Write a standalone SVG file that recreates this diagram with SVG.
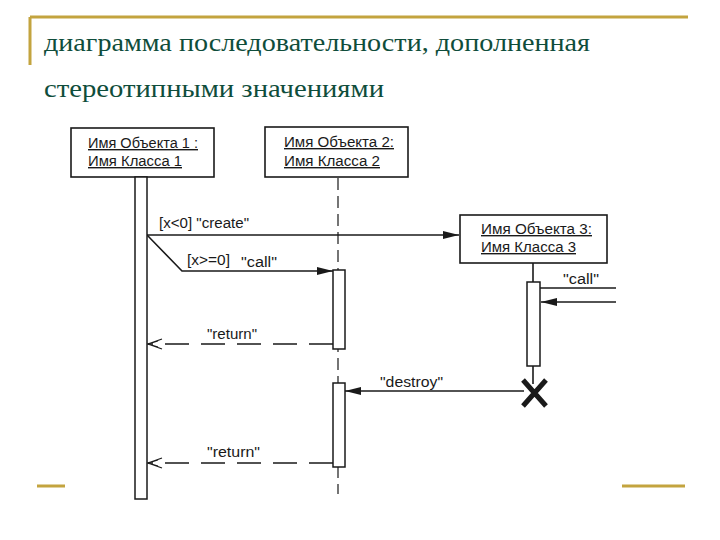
<svg xmlns="http://www.w3.org/2000/svg" width="720" height="540" viewBox="0 0 720 540">
<defs>
<style>
.gold{stroke:#c3a43f;stroke-width:3;fill:none}
.title{font-family:"Liberation Serif","DejaVu Serif",serif;font-size:25px;fill:#0f4d3b}
.box{fill:#fff;stroke:#1a1a1a;stroke-width:1.6}
.bar{fill:#fff;stroke:#1a1a1a;stroke-width:1.5}
.name{font-family:"Liberation Sans",Arial,sans-serif;font-size:14px;fill:#1a1a1a;text-decoration:underline}
.lbl{font-family:"Liberation Sans",Arial,sans-serif;font-size:14px;fill:#1a1a1a}
.msg{stroke:#1a1a1a;stroke-width:1.6;fill:none}
.ret{stroke:#1a1a1a;stroke-width:1.4;fill:none;stroke-dasharray:24 12}
.life{stroke:#1a1a1a;stroke-width:1.2;fill:none;stroke-dasharray:12 6}
</style>
<marker id="filled" viewBox="0 0 16 10" refX="16" refY="5" markerWidth="16" markerHeight="10" markerUnits="userSpaceOnUse" orient="auto">
<path d="M0,1 L16,5 L0,9 Z" fill="#1a1a1a"/>
</marker>
<marker id="open" viewBox="0 0 16 12" refX="15" refY="6" markerWidth="16" markerHeight="12" markerUnits="userSpaceOnUse" orient="auto">
<path d="M1,1 L15,6 L1,11 M5,3 L15,6 L5,9" fill="none" stroke="#1a1a1a" stroke-width="1.3"/>
</marker>
</defs>
<rect width="720" height="540" fill="#fff"/>
<g id="frame">
<path class="gold" d="M30,17 H688 M30,17 V65"/>
<path class="gold" d="M37,486 H65 M622,486 H685"/>
</g>
<g id="title">
<text class="title" x="44" y="51" textLength="546" lengthAdjust="spacingAndGlyphs">диаграмма последовательности, дополненная</text>
<text class="title" x="44" y="97" textLength="340" lengthAdjust="spacingAndGlyphs">стереотипными значениями</text>
</g>
<g id="connectors">
<line class="life" x1="338" y1="178" x2="338" y2="494"/>
<line class="msg" x1="533" y1="263" x2="533" y2="282"/>
<line class="msg" x1="533" y1="366" x2="533" y2="384"/>
<line class="msg" x1="147" y1="235" x2="459" y2="235" marker-end="url(#filled)"/>
<polyline class="msg" points="147,235 182,271 333,271" marker-end="url(#filled)"/>
<line class="ret" x1="333" y1="344" x2="148" y2="344" marker-end="url(#open)"/>
<line class="msg" x1="524" y1="391" x2="345" y2="391" marker-end="url(#filled)"/>
<line class="ret" x1="333" y1="463" x2="148" y2="463" marker-end="url(#open)"/>
<line class="msg" x1="540" y1="288" x2="616" y2="288"/>
<line class="msg" x1="616" y1="302" x2="541" y2="302" marker-end="url(#filled)"/>
<text class="lbl" x="159" y="228" textLength="90" lengthAdjust="spacingAndGlyphs">[x&lt;0] "create"</text>
<text class="lbl" x="187" y="265" textLength="43" lengthAdjust="spacingAndGlyphs">[x&gt;=0]</text>
<text class="lbl" x="241" y="267" textLength="36" lengthAdjust="spacingAndGlyphs">"call"</text>
<text class="lbl" x="207" y="339" textLength="50" lengthAdjust="spacingAndGlyphs">"return"</text>
<text class="lbl" x="380" y="387" textLength="63" lengthAdjust="spacingAndGlyphs">"destroy"</text>
<text class="lbl" x="207" y="457" textLength="53" lengthAdjust="spacingAndGlyphs">"return"</text>
<text class="lbl" x="563" y="284" textLength="36" lengthAdjust="spacingAndGlyphs">"call"</text>
</g>
<g id="object1">
<rect class="box" x="71" y="128" width="143" height="49"/>
<text class="name" x="88" y="148" textLength="110" lengthAdjust="spacingAndGlyphs">Имя Объекта 1 :</text>
<text class="name" x="88" y="166" textLength="94" lengthAdjust="spacingAndGlyphs">Имя Класса 1</text>
<rect class="bar" x="135" y="177" width="12" height="322"/>
</g>
<g id="object2">
<rect class="box" x="265" y="127" width="143" height="50"/>
<text class="name" x="284" y="147" textLength="110" lengthAdjust="spacingAndGlyphs">Имя Объекта 2:</text>
<text class="name" x="284" y="166" textLength="96" lengthAdjust="spacingAndGlyphs">Имя Класса 2</text>
<rect class="bar" x="333" y="270" width="12" height="79"/>
<rect class="bar" x="333" y="383" width="12" height="84"/>
</g>
<g id="object3">
<rect class="box" x="460" y="215" width="147" height="48"/>
<text class="name" x="481" y="234" textLength="111" lengthAdjust="spacingAndGlyphs">Имя Объекта 3:</text>
<text class="name" x="481" y="252" textLength="95" lengthAdjust="spacingAndGlyphs">Имя Класса 3</text>
<rect class="bar" x="527" y="282" width="13" height="84"/>
<path d="M523,380 L546,406 M546,380 L523,406" stroke="#1a1a1a" stroke-width="5" fill="none"/>
</g>
</svg>
